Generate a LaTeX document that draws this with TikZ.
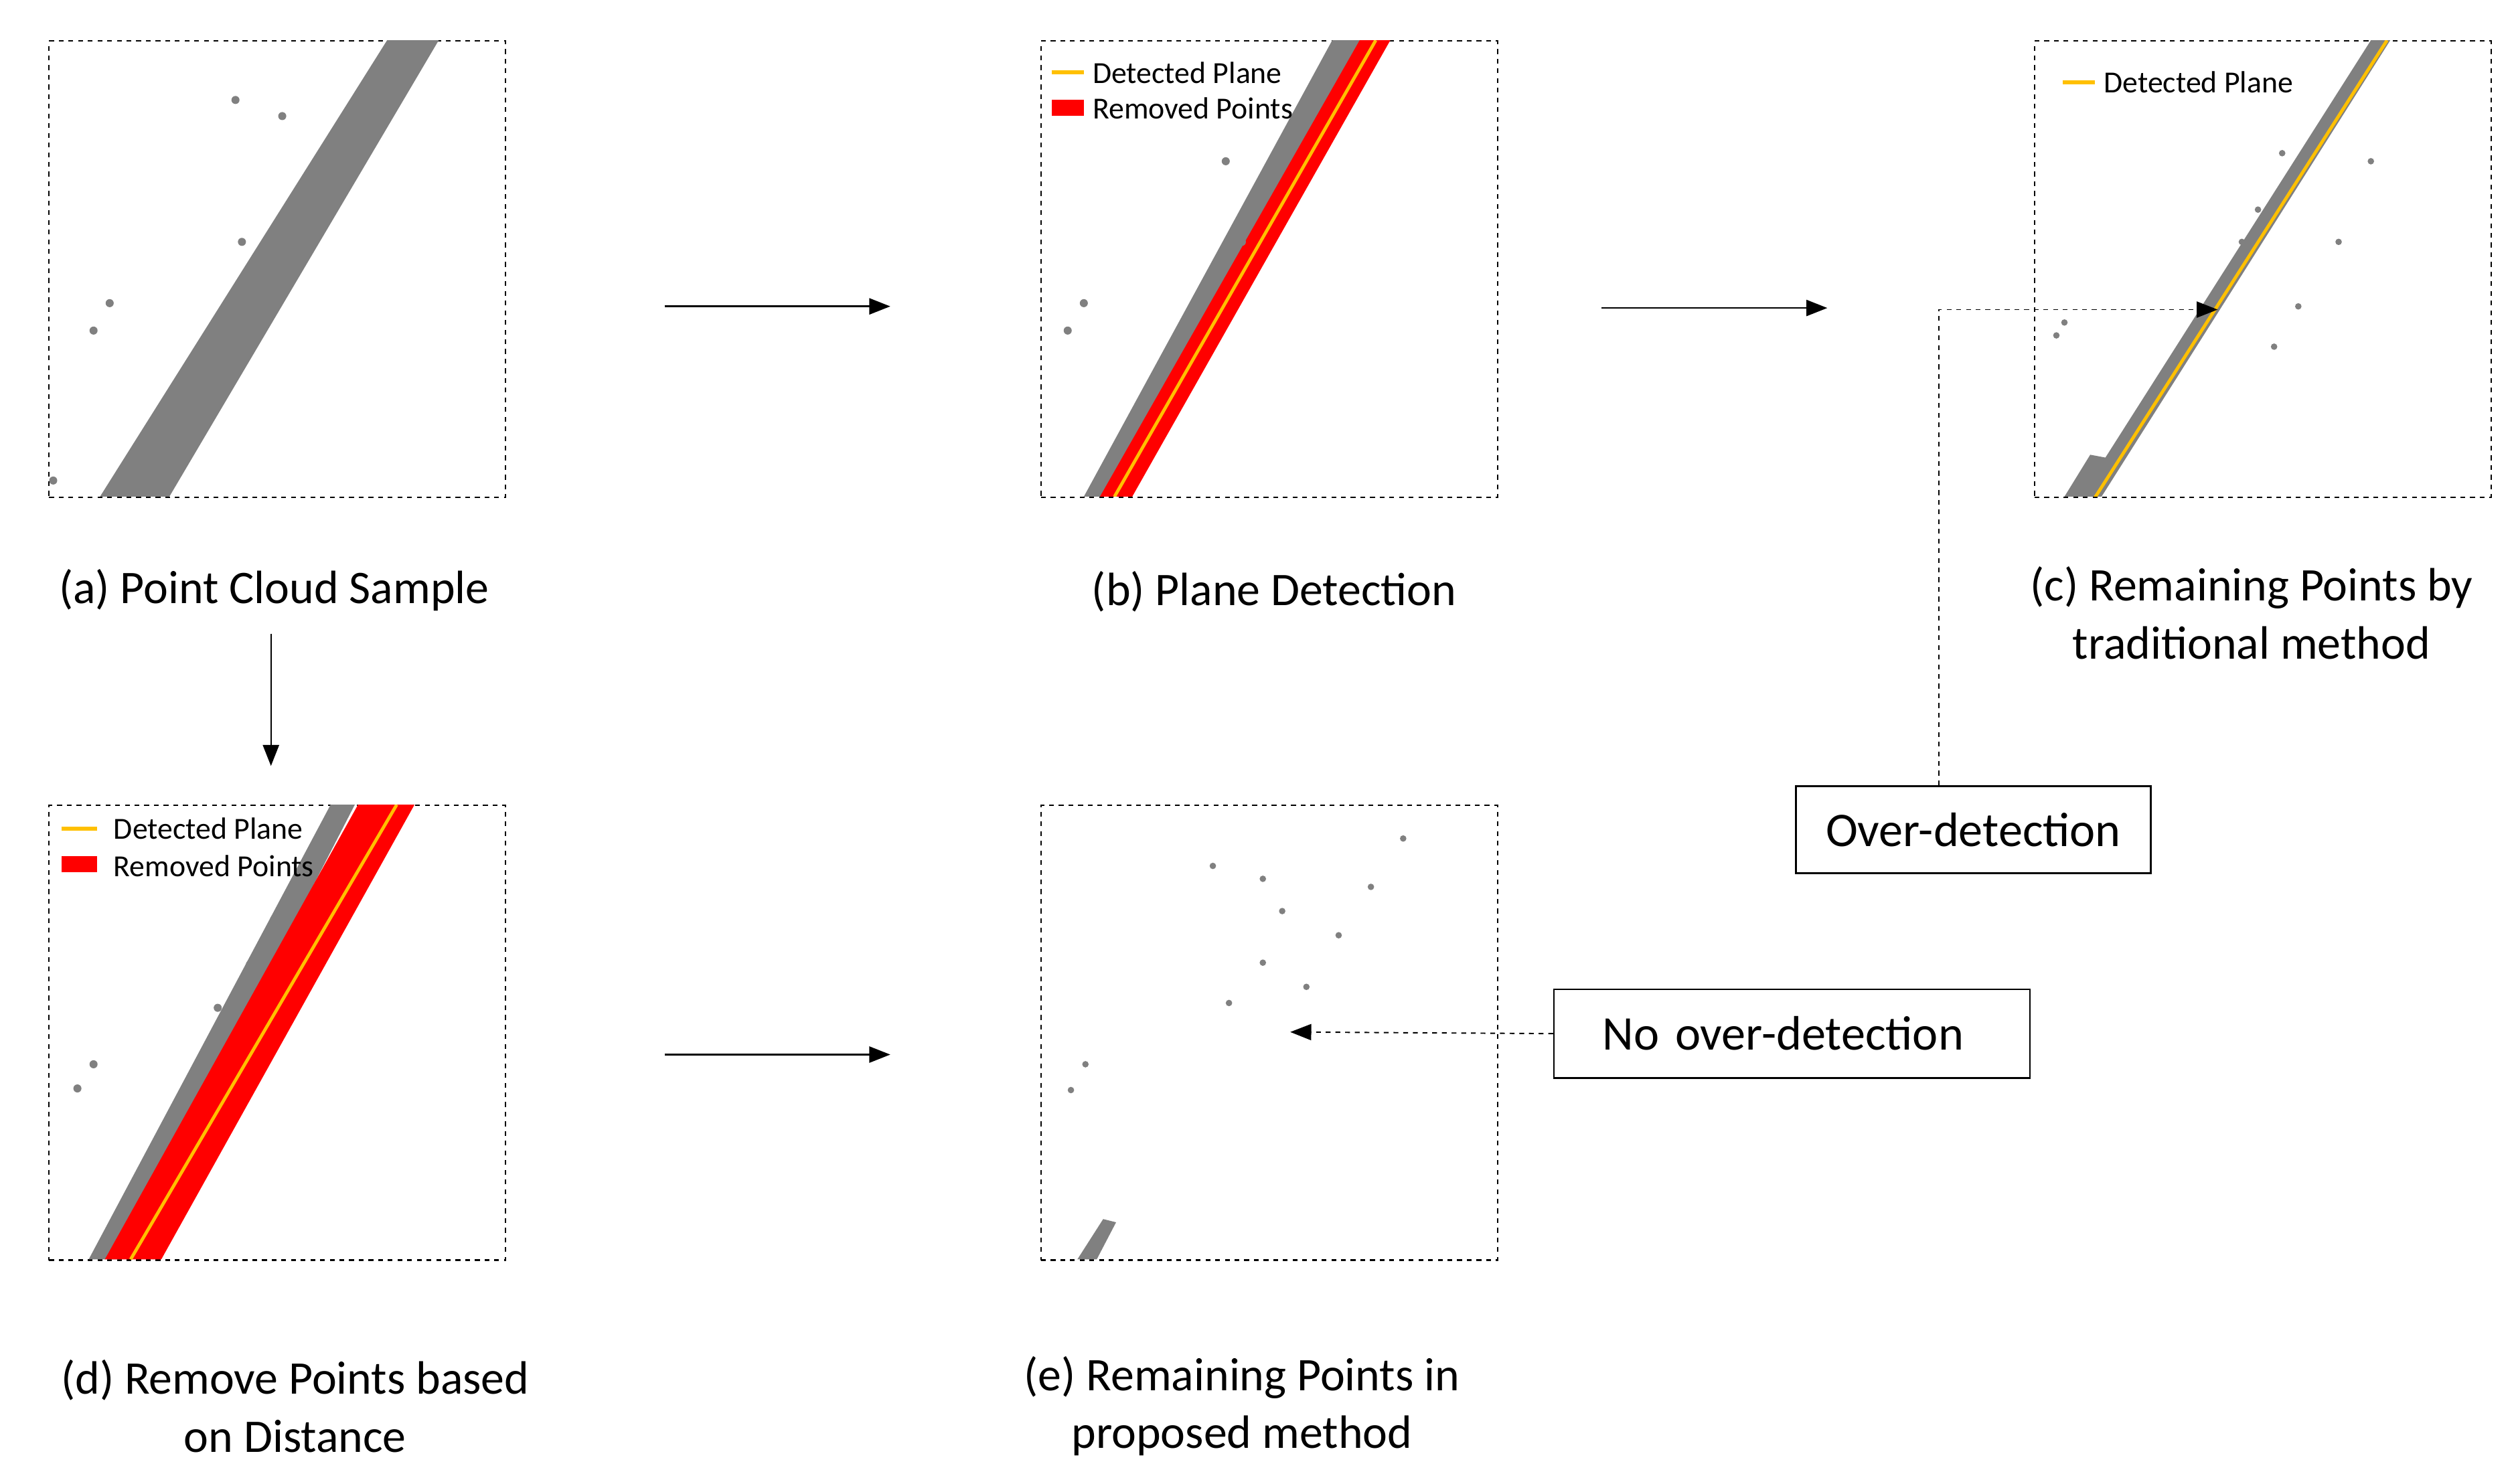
\documentclass[tikz,border=0pt]{standalone}
\usepackage{fontspec}
\setmainfont{Carlito}
\usetikzlibrary{arrows.meta}
\begin{document}
\begin{tikzpicture}[x=1pt,y=-1pt,
 frame/.style={draw,dashed,line width=0.9pt},
 arr/.style={-{Triangle[length=13pt,width=10pt]},line width=1pt},
 captxt/.style={font=\fontsize{29}{36}\selectfont,align=center},
 leg/.style={font=\fontsize{19}{22}\selectfont,anchor=west},
 box/.style={draw,line width=1pt,font=\fontsize{30}{34}\selectfont,anchor=north west,inner sep=0pt},
 pc/.style={fill=black!50},
 plane/.style={draw={rgb,255:red,255;green,192;blue,0},line width=2.5pt},
 rem/.style={fill={rgb,255:red,255;green,0;blue,0}}]
\useasboundingbox (0,0) rectangle (1560,920);
% frames
\node[frame,minimum width=283,minimum height=283,inner sep=0,anchor=north west] (fa) at (30,25) {};
\node[frame,minimum width=283,minimum height=283,inner sep=0,anchor=north west] (fb) at (645,25) {};
\node[frame,minimum width=283,minimum height=283,inner sep=0,anchor=north west] (fc) at (1261,25) {};
\node[frame,minimum width=283,minimum height=282,inner sep=0,anchor=north west] (fd) at (30,499) {};
\node[frame,minimum width=283,minimum height=282,inner sep=0,anchor=north west] (fe) at (645,499) {};
% (a)
\begin{scope}
\clip (30,25) rectangle (313,308);
\fill[pc] (62,308) -- (105,308) -- (272,25) -- (240,25) -- cycle;
\foreach \p in {(146,62),(175,72),(68,188),(58,205),(150,150),(33,298)} \fill[pc] \p circle (2.5);
\end{scope}
% (b)
\begin{scope}
\clip (645,25) rectangle (928,308);
\fill[pc] (672,308) -- (700,308) -- (845,25) -- (826,25) -- cycle;
\fill[rem] (682,308) -- (702,308) -- (862,25) -- (843,25) -- cycle;
\draw[plane,line width=2pt] (691,308) -- (853,25);
\foreach \p in {(672,188),(662,205),(770,150),(760,100)} \fill[pc] \p circle (2.5);
\end{scope}
\draw[plane] (652,45) -- (672,45);
\node[leg] (lb1) at (674,45) {Detected Plane};
\fill[rem] (652,62) rectangle (672,72);
\node[leg] (lb2) at (674,67) {Removed Points};
% (c)
\begin{scope}
\clip (1261,25) rectangle (1544,308);
\fill[pc] (1290,308) -- (1303,308) -- (1482,25) -- (1470,25) -- cycle;
\fill[pc] (1280,308) -- (1300,308) -- (1312,285) -- (1296,282) -- cycle;
\foreach \p in {(1280,200),(1275,208),(1415,95),(1400,130),(1390,150),(1425,190),(1410,215),(1450,150),(1470,100)} \fill[pc] \p circle (2);
\draw[plane,line width=2pt] (1298,310) -- (1480,25);
\end{scope}
\draw[plane] (1279,51) -- (1299,51);
\node[leg] (lc1) at (1301,51) {Detected Plane};
% (d)
\begin{scope}
\clip (30,499) rectangle (313,781);
\fill[pc] (55,781) -- (75,781) -- (220,499) -- (205,499) -- cycle;
\fill[rem] (65,781) -- (100,781) -- (257,499) -- (222,499) -- cycle;
\draw[plane,line width=2pt] (81,781) -- (246,499);
\foreach \p in {(58,660),(48,675),(155,598),(135,625),(170,570)} \fill[pc] \p circle (2.5);
\end{scope}
\draw[plane] (38,514) -- (60,514);
\node[leg] (ld1) at (67,514) {Detected Plane};
\fill[rem] (38,531) rectangle (60,541);
\node[leg] (ld2) at (67,537) {Removed Points};
% (e)
\begin{scope}
\clip (645,499) rectangle (928,781);
\fill[pc] (668,781) -- (680,781) -- (692,758) -- (684,756) -- cycle;
\foreach \p in {(752,537),(783,545),(795,565),(783,597),(762,622),(673,660),(664,676),(810,612),(830,580),(850,550),(870,520)} \fill[pc] \p circle (2);
\end{scope}
% captions
\node[captxt] (ca) at (170,366) {(a) Point Cloud Sample};
\node[captxt] (cb) at (790,367) {(b) Plane Detection};
\node[captxt] (cc) at (1396,380) {(c) Remaining Points by\\traditional method};
\node[captxt] (cd) at (183,872) {(d) Remove Points based\\on Distance};
\node[captxt] (ce) at (770,872) {(e) Remaining Points in\\proposed method};
% arrows
\coordinate (a1) at (412,190); \coordinate (a2) at (552,190);
\coordinate (b1) at (993,191); \coordinate (b2) at (1133,191);
\coordinate (c1) at (168,393); \coordinate (c2) at (168,475);
\coordinate (d1) at (412,654); \coordinate (d2) at (552,654);
\draw[arr] (a1) -- (a2);
\draw[arr] (b1) -- (b2);
\draw[arr] (c1) -- (c2);
\draw[arr] (d1) -- (d2);
% callouts
\node[box,minimum width=220,minimum height=54] (ov) at (1113,487) {Over-detection};
\node[box,minimum width=295,minimum height=55,text width=275,align=left] (nov) at (963,613) {\hspace*{20pt}No over-detection};
\coordinate (ovs) at (1202,487);
\coordinate (ovt) at (1375,192);
\coordinate (novt) at (800,640);
\draw[arr,dashed,line width=0.8pt] (ovs) |- (ovt);
\draw[arr,dashed,line width=0.8pt] (nov.west) -- (novt);
\end{tikzpicture}
\end{document}
